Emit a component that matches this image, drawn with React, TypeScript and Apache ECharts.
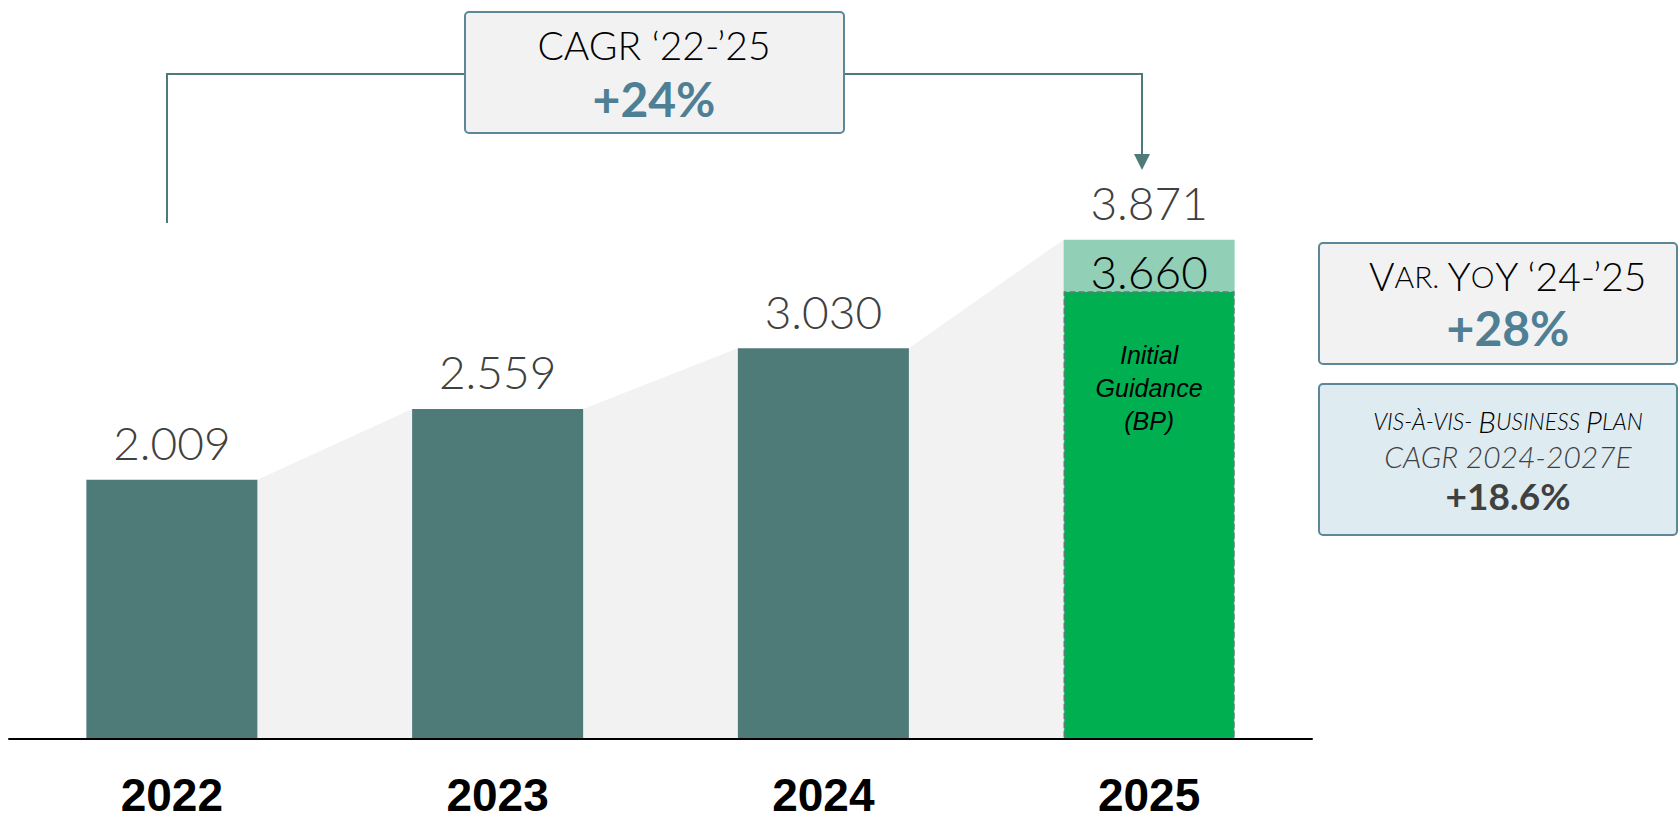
import React, { useEffect, useRef } from "react";
import * as echarts from "echarts";

const years = ["2022", "2023", "2024", "2025"];
const actuals = [2.009, 2.559, 3.03, 3.871];
const actualLabels = ["2.009", "2.559", "3.030", "3.871"];
const guidance = [null, null, null, 3.47];
const guidanceLabel = "3.660";
const guidanceNote = "Initial\nGuidance\n(BP)";
const cagrTitle = "CAGR ‘22-’25";
const cagrValue = "+24%";
const yoyValue = "+28%";
const bpLine2 = "CAGR 2024-2027E";
const bpValue = "+18.6%";

const TEAL = "#4e7a77";
const LIGHT_GREEN = "#92cfb7";
const GREEN = "#00b050";
const BLUE_TXT = "#4f7f94";
const BOX_BORDER = "#5b8799";
const FONT = "Lato, 'Noto Sans', sans-serif";
const BAR_PCT = 0.525;

export default function App() {
  const ref = useRef<HTMLDivElement>(null);
  useEffect(() => {
    if (!ref.current) return;
    const chart = echarts.init(ref.current, null, { renderer: "svg" });
    const gapData = actuals.slice(0, -1).map((v, i) => [i, v, actuals[i + 1]]);
    const option: any = {
      animation: false,
      grid: { left: 9, right: 367, top: 94, bottom: 83 },
      xAxis: {
        type: "category",
        data: years,
        axisLine: { show: true, lineStyle: { color: "#000", width: 2 } },
        axisTick: { show: false },
        axisLabel: {
          color: "#000",
          fontFamily: "'Liberation Sans', Arial, sans-serif",
          fontWeight: "bold",
          fontSize: 46,
          lineHeight: 40,
          margin: 36,
        },
        z: 10,
      },
      yAxis: { type: "value", min: 0, max: 5, show: false, splitLine: { show: false } },
      series: [
        {
          type: "custom",
          z: 1,
          data: gapData,
          renderItem: (params: any, api: any) => {
            const i = api.value(0);
            const a = api.coord([i, api.value(1)]);
            const b = api.coord([i + 1, api.value(2)]);
            const base = api.coord([i, 0])[1];
            const hw = (api.size([1, 0])[0] * BAR_PCT) / 2;
            return {
              type: "polygon",
              shape: {
                points: [
                  [a[0] + hw, a[1]],
                  [b[0] - hw, b[1]],
                  [b[0] - hw, base],
                  [a[0] + hw, base],
                ],
              },
              style: { fill: "#f2f2f2" },
            };
          },
        },
        {
          type: "bar",
          z: 2,
          barWidth: BAR_PCT * 100 + "%",
          barGap: "-100%",
          data: actuals.map((v, i) => ({
            value: v,
            itemStyle: { color: i === actuals.length - 1 ? LIGHT_GREEN : TEAL },
          })),
          label: {
            show: true,
            position: "top",
            distance: 14,
            formatter: (p: any) => actualLabels[p.dataIndex],
            color: "#404040",
            fontFamily: FONT,
            fontWeight: 300,
            fontSize: 46,
          },
        },
        {
          type: "bar",
          z: 3,
          barWidth: BAR_PCT * 100 + "%",
          data: guidance,
          itemStyle: {
            color: GREEN,
            borderColor: "#5f7a7c",
            borderWidth: 1.5,
            borderType: "dashed",
          },
          label: {
            show: true,
            position: "insideTop",
            distance: 47,
            formatter: guidanceNote,
            color: "#000",
            fontFamily: "'Liberation Sans', Arial, sans-serif",
            fontStyle: "italic",
            fontSize: 25,
            lineHeight: 33,
          },
        },
        {
          type: "bar",
          z: 4,
          barWidth: BAR_PCT * 100 + "%",
          data: guidance,
          itemStyle: { color: "transparent" },
          label: {
            show: true,
            position: "top",
            distance: -3,
            formatter: guidanceLabel,
            color: "#000",
            fontFamily: FONT,
            fontWeight: 300,
            fontSize: 46,
          },
        },
      ],
      graphic: [
        {
          type: "polyline",
          shape: { points: [[167, 223], [167, 74], [465, 74]] },
          style: { stroke: TEAL, lineWidth: 2, fill: null },
        },
        {
          type: "polyline",
          shape: { points: [[844, 74], [1142, 74], [1142, 156]] },
          style: { stroke: TEAL, lineWidth: 2, fill: null },
        },
        {
          type: "polygon",
          shape: { points: [[1134, 154], [1150, 154], [1142, 170]] },
          style: { fill: TEAL },
        },
        {
          type: "rect",
          shape: { x: 465, y: 12, width: 379, height: 121, r: 4 },
          style: { fill: "#f2f2f2", stroke: BOX_BORDER, lineWidth: 2 },
        },
        {
          type: "text",
          x: 654,
          y: 45,
          style: {
            text: cagrTitle,
            fill: "#000",
            font: `300 39px ${FONT}`,
            align: "center",
            verticalAlign: "middle",
          },
        },
        {
          type: "text",
          x: 654,
          y: 98,
          style: {
            text: cagrValue,
            fill: BLUE_TXT,
            font: `bold 48px ${FONT}`,
            align: "center",
            verticalAlign: "middle",
          },
        },
        {
          type: "rect",
          shape: { x: 1319, y: 243, width: 358, height: 121, r: 4 },
          style: { fill: "#f2f2f2", stroke: BOX_BORDER, lineWidth: 2 },
        },
        {
          type: "text",
          x: 1508,
          y: 276,
          style: {
            text: "{b|V}{s|AR. }{b|Y}{s|O}{b|Y ‘24-’25}",
            align: "center",
            verticalAlign: "middle",
            rich: {
              b: { fontFamily: FONT, fontWeight: 300, fontSize: 39, fill: "#000", color: "#000" },
              s: { fontFamily: FONT, fontWeight: 300, fontSize: 30, fill: "#000", color: "#000" },
            },
          },
        },
        {
          type: "text",
          x: 1508,
          y: 327,
          style: {
            text: yoyValue,
            fill: BLUE_TXT,
            font: `bold 48px ${FONT}`,
            align: "center",
            verticalAlign: "middle",
          },
        },
        {
          type: "rect",
          shape: { x: 1319, y: 384, width: 358, height: 151, r: 4 },
          style: { fill: "#deebf0", stroke: BOX_BORDER, lineWidth: 2 },
        },
        {
          type: "text",
          x: 1508,
          y: 421,
          style: {
            text: "{s|VIS-À-VIS- }{b|B}{s|USINESS }{b|P}{s|LAN}",
            align: "center",
            verticalAlign: "middle",
            rich: {
              b: { fontFamily: FONT, fontStyle: "italic", fontWeight: 300, fontSize: 30, color: "#404040" },
              s: { fontFamily: FONT, fontStyle: "italic", fontWeight: 300, fontSize: 23, color: "#404040" },
            },
          },
        },
        {
          type: "text",
          x: 1508,
          y: 456,
          style: {
            text: bpLine2,
            fill: "#404040",
            font: `italic 300 30px ${FONT}`,
            align: "center",
            verticalAlign: "middle",
          },
        },
        {
          type: "text",
          x: 1508,
          y: 495,
          style: {
            text: bpValue,
            fill: "#404040",
            font: `bold 37px ${FONT}`,
            align: "center",
            verticalAlign: "middle",
          },
        },
      ],
    };
    chart.setOption(option);
    return () => chart.dispose();
  }, []);
  return (
    <div
      ref={ref}
      style={{ position: "absolute", left: 0, top: 0, width: 1679, height: 822, background: "#fff" }}
    />
  );
}
